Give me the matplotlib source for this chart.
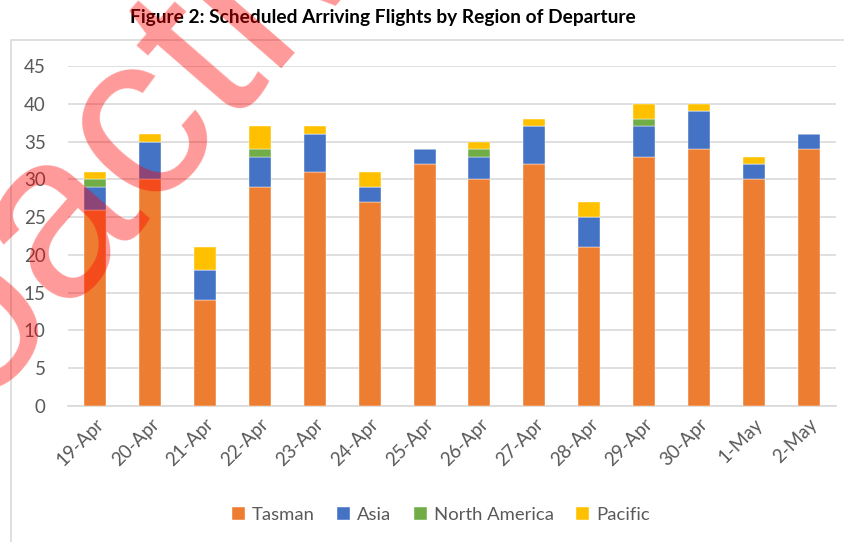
import matplotlib.pyplot as plt
from matplotlib.patches import Rectangle
import numpy as np

# data
dates = ['19-Apr', '20-Apr', '21-Apr', '22-Apr', '23-Apr', '24-Apr', '25-Apr',
         '26-Apr', '27-Apr', '28-Apr', '29-Apr', '30-Apr', '1-May', '2-May']
tasman = [26, 30, 14, 29, 31, 27, 32, 30, 32, 21, 33, 34, 30, 34]
asia = [3, 5, 4, 4, 5, 2, 2, 3, 5, 4, 4, 5, 2, 2]
north_america = [1, 0, 0, 1, 0, 0, 0, 1, 0, 0, 1, 0, 0, 0]
pacific = [1, 1, 3, 3, 1, 2, 0, 1, 1, 2, 2, 1, 1, 0]

series = [
    ('Tasman', tasman, '#ED7D31'),
    ('Asia', asia, '#4472C4'),
    ('North America', north_america, '#70AD47'),
    ('Pacific', pacific, '#FFC000'),
]

plt.rcParams['font.family'] = ['Lato', 'DejaVu Sans']

fig = plt.figure(figsize=(8.44, 5.42), dpi=100)
ax = fig.add_axes([68 / 844, 1 - 406 / 542, (836 - 68) / 844, 340 / 542])

x = np.arange(len(dates))
bottom = np.zeros(len(dates))
for name, vals, col in series:
    ax.bar(x, vals, 0.4, bottom=bottom, color=col, label=name, zorder=3,
           edgecolor='white', linewidth=0.3)
    bottom += np.array(vals)

ax.set_ylim(0, 45)
ax.set_xlim(-0.5, len(dates) - 0.5)
ax.set_yticks(range(0, 46, 5))
ax.set_xticks(x)
ax.set_xticklabels(dates, rotation=45, ha='right', rotation_mode='anchor')
ax.yaxis.grid(True, color='#D9D9D9', linewidth=1.2, zorder=0)
ax.tick_params(length=0, colors='#595959', labelsize=13.5)
ax.tick_params(axis='y', pad=16)
ax.tick_params(axis='x', pad=7)
for s in ['top', 'right', 'left']:
    ax.spines[s].set_visible(False)
ax.spines['bottom'].set_color('#D9D9D9')
ax.spines['bottom'].set_linewidth(1.2)

fig.text(383 / 844, 1 - 18 / 542, 'Figure 2: Scheduled Arriving Flights by Region of Departure',
         ha='center', va='center', fontsize=13.8, fontweight='bold', color='black')

leg = fig.legend(loc='center', bbox_to_anchor=(441 / 844, 1 - 515 / 542), ncol=4,
                 frameon=False, fontsize=13.3, handlelength=0.7, handleheight=0.7,
                 handletextpad=0.4, columnspacing=1.2)
for t in leg.get_texts():
    t.set_color('#595959')

# chart border
fig.add_artist(Rectangle((11 / 844, -0.1), 1.0, 1 - 40 / 542 + 0.1, transform=fig.transFigure,
                         fill=False, edgecolor='#D9D9D9', linewidth=1.2))

# watermark, anchored at the start of its baseline (off the canvas, lower left)
fig.text(-176 / 844, 1 - 595 / 542, 'Proactively Released', rotation=49, fontsize=170,
         color='red', alpha=0.4, ha='left', va='baseline', rotation_mode='anchor',
         family=['Liberation Sans', 'DejaVu Sans'], zorder=10)

fig.savefig('out.png', dpi=100)
